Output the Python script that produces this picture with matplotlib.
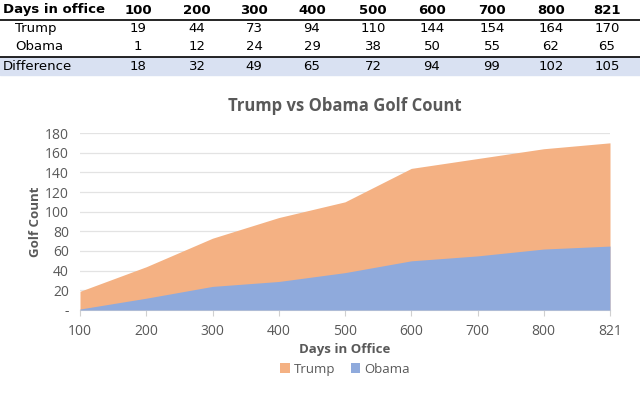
import numpy as np
import matplotlib.pyplot as plt
from matplotlib.patches import Rectangle
from matplotlib.ticker import FuncFormatter

# data
days = ['100', '200', '300', '400', '500', '600', '700', '800', '821']
trump = [19, 44, 73, 94, 110, 144, 154, 164, 170]
obama = [1, 12, 24, 29, 38, 50, 55, 62, 65]
diff = [18, 32, 49, 65, 72, 94, 99, 102, 105]

W, H = 640, 393
plt.rcParams['font.family'] = ['Open Sans', 'DejaVu Sans']

fig = plt.figure(figsize=(W / 100, H / 100), dpi=100)


def fx(px):
    return px / W


def fy(py):
    return 1 - py / H


# --- table on top ---
col_x = [138, 197, 254, 312, 373, 432, 492, 551, 607]
row_y = [10, 28.5, 47, 66]
fig.patches.append(Rectangle((fx(0), fy(75)), 1, (75 - 57) / H, transform=fig.transFigure,
                             color='#D9E1F2', zorder=0))
for yy in [19.5, 57]:
    fig.add_artist(plt.Line2D([0, 1], [fy(yy), fy(yy)], transform=fig.transFigure,
                              color='black', lw=1.2))

tkw = dict(fontsize=9.5, va='center', color='black', family=['DejaVu Sans'])
fig.text(fx(3), fy(row_y[0]), 'Days in office', fontweight='bold', ha='left', **tkw)
fig.text(fx(15), fy(row_y[1]), 'Trump', ha='left', **tkw)
fig.text(fx(15), fy(row_y[2]), 'Obama', ha='left', **tkw)
fig.text(fx(3), fy(row_y[3]), 'Difference', ha='left', **tkw)
for i, x in enumerate(col_x):
    fig.text(fx(x), fy(row_y[0]), days[i], fontweight='bold', ha='center', **tkw)
    fig.text(fx(x), fy(row_y[1]), str(trump[i]), ha='center', **tkw)
    fig.text(fx(x), fy(row_y[2]), str(obama[i]), ha='center', **tkw)
    fig.text(fx(x), fy(row_y[3]), str(diff[i]), ha='center', **tkw)

# --- area chart ---
ax = fig.add_axes([fx(80), fy(310), fx(610) - fx(80), (310 - 133) / H])
x = np.arange(len(days))
ax.fill_between(x, 0, trump, color='#F4B183', lw=0, label='Trump', zorder=2)
ax.fill_between(x, 0, obama, color='#8FAADC', lw=0, label='Obama', zorder=3)

ax.set_xlim(0, len(days) - 1)
ax.set_ylim(0, 180)
ax.set_yticks(range(0, 181, 20))
ax.yaxis.set_major_formatter(FuncFormatter(lambda v, p: '-' if v == 0 else f'{int(v)}'))
ax.set_xticks(x)
ax.set_xticklabels(days)
ax.grid(True, axis='y', color='#E3E3E3', lw=0.9, zorder=0)
ax.set_axisbelow(True)
for s in ['top', 'right', 'left']:
    ax.spines[s].set_visible(False)
ax.spines['bottom'].set_color('#D0D0D0')
ax.tick_params(axis='y', length=0, labelsize=10, labelcolor='#595959', pad=8)
ax.tick_params(axis='x', length=4, color='#D0D0D0', labelsize=10, labelcolor='#595959', pad=6)

ax.set_title('Trump vs Obama Golf Count', fontsize=12, fontweight='bold', color='#595959', pad=16)
ax.set_xlabel('Days in Office', fontsize=9.5, fontweight='bold', color='#595959', labelpad=3)
ax.set_ylabel('Golf Count', fontsize=9.5, fontweight='bold', color='#595959', labelpad=2)

ax.legend(loc='upper center', bbox_to_anchor=(0.5, -0.23), ncol=2, frameon=False,
          fontsize=9.5, labelcolor='#595959', handlelength=0.7, handleheight=0.7,
          handletextpad=0.3, columnspacing=1.2)

fig.savefig('out.png', dpi=100)
